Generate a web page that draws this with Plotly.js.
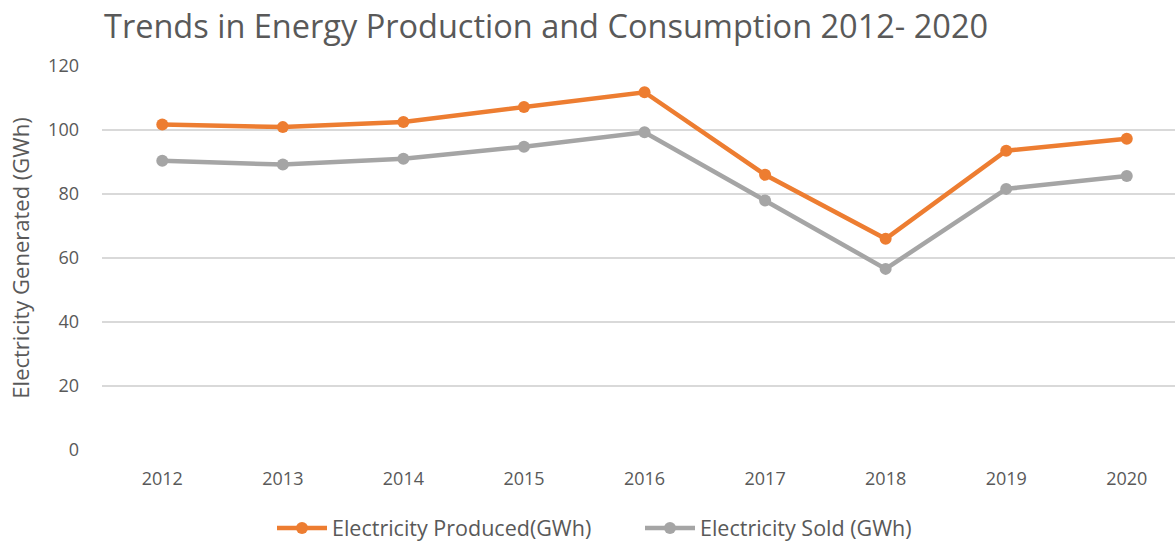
<!DOCTYPE html>
<html>
<head>
<meta charset="utf-8">
<script src="https://cdn.plot.ly/plotly-3.0.1.min.js"></script>
<style>html,body{margin:0;padding:0;background:#fff}#chart{width:1175px;height:541px}</style>
</head>
<body>
<div id="chart"></div>
<script>
const years = ["2012","2013","2014","2015","2016","2017","2018","2019","2020"];
const produced = [101.7, 100.9, 102.5, 107.2, 111.8, 86.0, 66.0, 93.5, 97.3];
const sold = [90.4, 89.2, 91.0, 94.8, 99.3, 78.0, 56.6, 81.6, 85.6];
const seriesNames = ["Electricity Produced(GWh)", "Electricity Sold (GWh)"];
const yTicks = [0, 20, 40, 60, 80, 100, 120];

const font = "Open Sans, Noto Sans, sans-serif";
const grey = "#595959";
const traces = [
  {x: years, y: produced, name: seriesNames[0], type: "scatter", mode: "lines+markers",
   line: {color: "#ED7D31", width: 4.5}, marker: {color: "#ED7D31", size: 12}},
  {x: years, y: sold, name: seriesNames[1], type: "scatter", mode: "lines+markers",
   line: {color: "#A5A5A5", width: 4.5}, marker: {color: "#A5A5A5", size: 12}}
];
const layout = {
  width: 1175, height: 541,
  margin: {l: 102, r: 0, t: 66, b: 91},
  paper_bgcolor: "#fff", plot_bgcolor: "#fff",
  font: {family: font, color: grey, size: 17},
  title: {text: "Trends in Energy Production and Consumption 2012- 2020",
          font: {family: font, size: 32.5, color: grey},
          x: 104/1175, xanchor: "left", y: 0.95, yanchor: "middle"},
  xaxis: {type: "category", range: [-0.5, 8.4], showgrid: false, zeroline: false,
          showline: false, ticks: "", ticklabelstandoff: 16,
          tickfont: {size: 18, color: grey}},
  yaxis: {range: [0, 120], tickvals: yTicks, showgrid: true, gridcolor: "#D9D9D9", gridwidth: 1.5,
          zeroline: false, showline: false, ticks: "", ticklabelstandoff: 22,
          tickfont: {size: 18, color: grey},
          title: {text: "Electricity Generated (GWh)", font: {size: 22, color: grey}, standoff: 12}},
  legend: {orientation: "h", xref: "container", yref: "container",
           x: 272/1175, xanchor: "left", y: 1 - 528/541, yanchor: "middle",
           entrywidth: 303, entrywidthmode: "pixels",
           font: {size: 21.5, color: grey}, itemwidth: 50},
  showlegend: true
};
Plotly.newPlot("chart", traces, layout, {displayModeBar: false, staticPlot: true});
</script>
</body>
</html>
